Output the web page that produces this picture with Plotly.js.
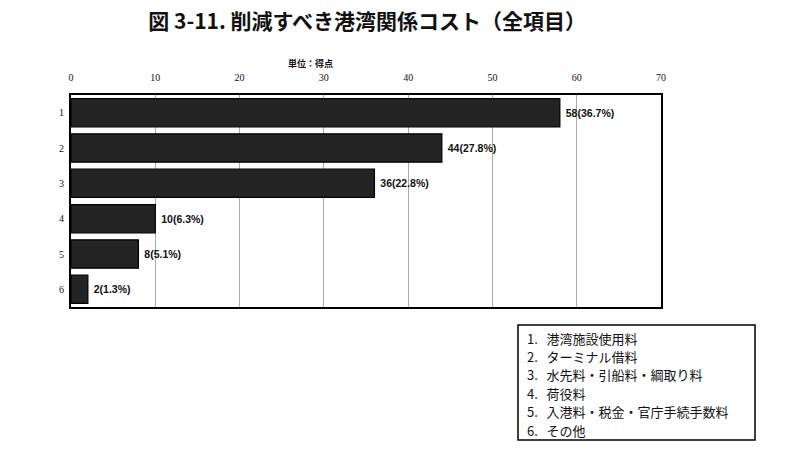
<!DOCTYPE html>
<html>
<head>
<meta charset="utf-8">
<script src="https://cdn.plot.ly/plotly-3.0.1.min.js"></script>
<style>
  html, body { margin: 0; padding: 0; background: #fff; }
  #chart { width: 800px; height: 456px; }
</style>
</head>
<body>
<div id="chart"></div>
<script>
// 削減すべき港湾関係コスト（全項目）
const categories = ['1', '2', '3', '4', '5', '6'];
const points = [58, 44, 36, 10, 8, 2];
const shares = ['36.7', '27.8', '22.8', '6.3', '5.1', '1.3'];
const itemNames = [
  '港湾施設使用料',
  'ターミナル借料',
  '水先料・引船料・綱取り料',
  '荷役料',
  '入港料・税金・官庁手続手数料',
  'その他'
];

const serif = '"Liberation Serif", "DejaVu Serif", serif';
const jp = '"Noto Sans CJK JP", "Noto Sans", sans-serif';

const trace = {
  type: 'bar',
  orientation: 'h',
  y: categories,
  x: points,
  marker: { color: '#242424', line: { color: '#000', width: 1.2 } },
  text: points.map((v, i) => `&nbsp;${v}(${shares[i]}%)`),
  textposition: 'outside',
  cliponaxis: false,
  textfont: { family: 'Arial, "Liberation Sans", sans-serif', size: 10.5, color: '#111', weight: 'bold' },
  hoverinfo: 'skip'
};

// legend box: one annotation per item, in the blank area under the plot
const legendLines = itemNames.map((name, i) => ({
  xref: 'paper', yref: 'paper',
  x: (526 - 71) / 590, y: (307 - (338 + i * 18.4)) / 212,
  xanchor: 'left', yanchor: 'middle',
  text: `${i + 1}.&nbsp;&nbsp;&nbsp;${name}`,
  showarrow: false, borderpad: 0,
  font: { family: jp, size: 13, color: '#111' }
}));

const layout = {
  width: 800, height: 456,
  margin: { l: 71, r: 139, t: 95, b: 149 },
  paper_bgcolor: '#fff', plot_bgcolor: '#fff',
  showlegend: false,
  bargap: 0.2,
  title: {
    text: '<b>図 3-11. 削減すべき港湾関係コスト（全項目）</b>',
    x: 0.459, xanchor: 'center', y: 0.952, yanchor: 'middle',
    font: { family: jp, size: 21, color: '#111' }
  },
  xaxis: {
    side: 'top', range: [0, 70], dtick: 10,
    showgrid: true, gridcolor: '#aaa', gridwidth: 1,
    zeroline: false,
    showline: true, linecolor: '#000', linewidth: 2, mirror: true,
    ticks: '', ticklen: 0,
    ticklabelstandoff: 8,
    tickfont: { family: serif, size: 10, color: '#111' },
    fixedrange: true
  },
  yaxis: {
    autorange: 'reversed', type: 'category',
    showline: true, linecolor: '#000', linewidth: 2, mirror: true,
    showgrid: false, ticks: '',
    ticklabelstandoff: 3,
    tickfont: { family: serif, size: 10, color: '#111' },
    fixedrange: true
  },
  shapes: [{
    type: 'rect', xref: 'paper', yref: 'paper',
    x0: (518 - 71) / 590, x1: (755 - 71) / 590,
    y0: (307 - 440) / 212, y1: (307 - 325) / 212,
    line: { color: '#000', width: 1.5 }, fillcolor: 'rgba(0,0,0,0)'
  }],
  annotations: [{
    xref: 'paper', yref: 'paper',
    x: (310 - 71) / 590, y: (307 - 63) / 212,
    xanchor: 'center', yanchor: 'middle',
    text: '<b>単位：得点</b>', showarrow: false,
    font: { family: jp, size: 9, color: '#111' }
  }].concat(legendLines)
};

Plotly.newPlot('chart', [trace], layout, { staticPlot: true, displayModeBar: false });
</script>
</body>
</html>
